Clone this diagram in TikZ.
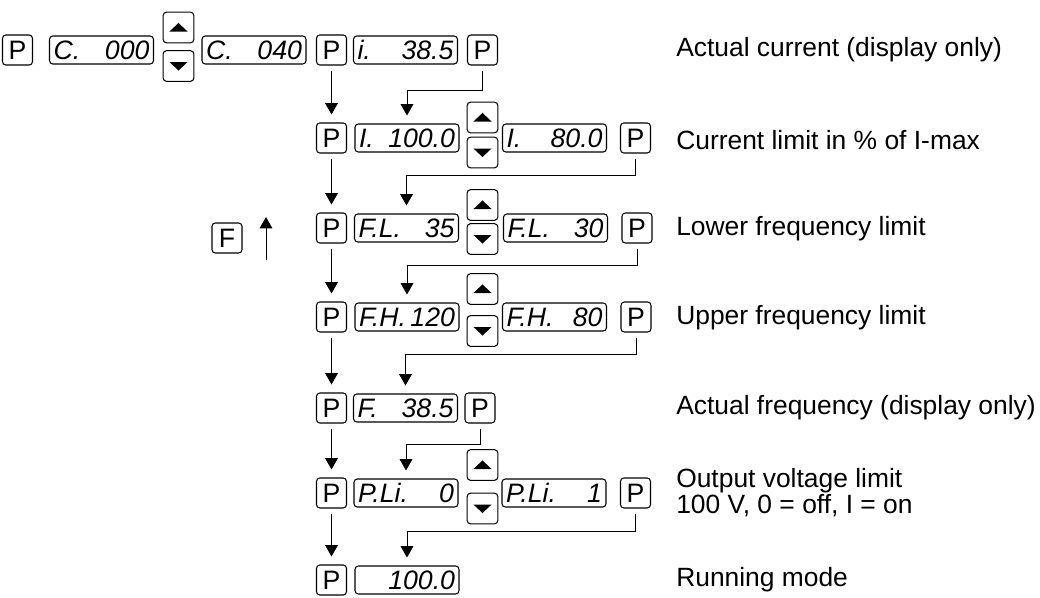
\documentclass[tikz,border=0pt]{standalone}
\usepackage{fontspec}
\setmainfont{Liberation Sans}
\usetikzlibrary{arrows.meta}

\begin{document}
\begin{tikzpicture}[x=0.75pt, y=-0.75pt,
  key/.style={draw, line width=0.8pt, rounded corners=2.5pt, minimum size=22.5pt, inner sep=0pt, font=\fontsize{20}{20}\selectfont},
  upkey/.style={key, minimum size=23pt, path picture={\fill[sharp corners] ([xshift=-6.8pt,yshift=-3pt]path picture bounding box.center) -- ++(13.6pt,0pt) -- ([yshift=3.4pt]path picture bounding box.center) -- cycle;}},
  downkey/.style={key, minimum size=23pt, path picture={\fill[sharp corners] ([xshift=-6.8pt,yshift=3pt]path picture bounding box.center) -- ++(13.6pt,0pt) -- ([yshift=-3.4pt]path picture bounding box.center) -- cycle;}},
  disp/.style={draw, line width=0.8pt, rounded corners=2.5pt, minimum width=78pt, minimum height=21pt, text width=72pt, inner sep=0pt, font=\itshape\fontsize{20}{20}\selectfont},
  lbl/.style={anchor=west, inner sep=0pt, align=left, font=\fontsize{19.8}{18}\selectfont},
  conn/.style={-{Triangle[width=9.5pt,length=8.5pt]}, line width=0.75pt, shorten <=4pt, shorten >=6pt}]
  \useasboundingbox (0,0) rectangle (1040,597);

  % row 1: C parameter and actual current
  \node[key] (p10) at (17.5,50) {P};
  \node[disp] (d10) at (101.5,50) {C.\hfill 000};
  \node[upkey] (u1) at (178.5,27.5) {};
  \node[downkey] (w1) at (178.5,66) {};
  \node[disp] (d11) at (254,50) {C.\hfill 040};
  \node[key] (p11) at (331.5,50) {P};
  \node[disp] (d12) at (405.5,50) {i.\hfill 38.5};
  \node[key] (p12) at (482.5,50) {P};
  \node[lbl] (t1) at (676,50) {Actual current (display only)};

  % row 2: current limit
  \node[key] (p20) at (331.5,138) {P};
  \node[disp] (d20) at (407,138) {I.\hfill 100.0};
  \node[upkey] (u2) at (482.5,117.5) {};
  \node[downkey] (w2) at (482.5,152.5) {};
  \node[disp] (d21) at (554.5,138) {I.\hfill 80.0};
  \node[key] (p21) at (635.5,138) {P};
  \node[lbl] (t2) at (676,140) {Current limit in \% of I-max};

  % row 3: lower frequency, F key
  \node[key] (f30) at (227,238) {F};
  \coordinate (fa) at (266,260);
  \coordinate (fb) at (266,217);
  \node[key] (p30) at (331.5,228) {P};
  \node[disp] (d30) at (406.5,228) {F.L.\hfill 35};
  \node[upkey] (u3) at (482.5,205) {};
  \node[downkey] (w3) at (482.5,239) {};
  \node[disp] (d31) at (555.5,228) {F.L.\hfill 30};
  \node[key] (p31) at (637,228) {P};
  \node[lbl] (t3) at (676,229) {Lower frequency limit};

  % row 4: upper frequency
  \node[key] (p40) at (331.5,317) {P};
  \node[disp] (d40) at (407,317) {F.H.\hfill 120};
  \node[upkey] (u4) at (482.5,289) {};
  \node[downkey] (w4) at (482.5,331) {};
  \node[disp] (d41) at (554.5,317) {F.H.\hfill 80};
  \node[key] (p41) at (636,317) {P};
  \node[lbl] (t4) at (676,318) {Upper frequency limit};

  % row 5: actual frequency
  \node[key] (p50) at (331.5,408) {P};
  \node[disp] (d50) at (405.5,408) {F.\hfill 38.5};
  \node[key] (p51) at (480,408) {P};
  \node[lbl] (t5) at (676,408) {Actual frequency (display only)};

  % row 6: output voltage limit
  \node[key] (p60) at (331.5,493) {P};
  \node[disp] (d60) at (406,493) {P.Li.\hfill 0};
  \node[upkey] (u6) at (482.5,465) {};
  \node[downkey] (w6) at (482.5,508.5) {};
  \node[disp] (d61) at (554,493) {P.Li.\hfill 1};
  \node[key] (p61) at (635.5,493) {P};
  \node[lbl] (t6) at (676,493) {Output voltage limit\\100 V, 0 = off, I = on};

  % row 7: running mode
  \node[key] (p70) at (331.5,580) {P};
  \node[disp] (d70) at (407,580) {\hfill 100.0};
  \node[lbl] (t7) at (676,580) {Running mode};

  % connectors
  \draw[conn, shorten <=0pt, shorten >=0pt] (fa) -- (fb);
  \draw[conn] (p11) -- (p20);
  \draw[conn] (p12.south) -- ++(0,25) -| (d20.north);
  \draw[conn] (p20) -- (p30);
  \draw[conn] (p21.south) -- ++(0,22) -| (d30.north);
  \draw[conn] (p30) -- (p40);
  \draw[conn] (p31.south) -- ++(0,22) -| (d40.north);
  \draw[conn] (p40) -- (p50);
  \draw[conn] (p41.south) -- ++(0,22) -| (d50.north);
  \draw[conn] (p50) -- (p60);
  \draw[conn] (p51.south) -- ++(0,21) -| (d60.north);
  \draw[conn] (p60) -- (p70);
  \draw[conn] (p61.south) -- ++(0,23) -| (d70.north);
\end{tikzpicture}
\end{document}
